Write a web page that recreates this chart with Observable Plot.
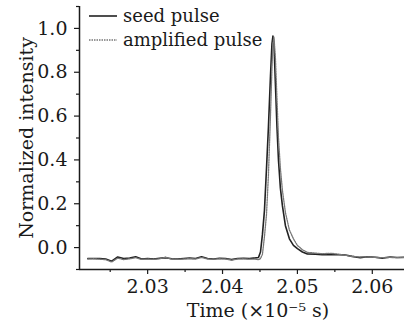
<!DOCTYPE html>
<html><head><meta charset="utf-8">
<script src="https://cdn.jsdelivr.net/npm/d3@7"></script>
<script src="https://cdn.jsdelivr.net/npm/@observablehq/plot@0.6"></script>
<style>
body{margin:0;background:#fff;}
#wrap{position:relative;width:404px;height:328px;font-family:"DejaVu Serif",serif;}
.leg{position:absolute;left:89px;font-size:18px;color:#1a1a1a;height:23px;display:flex;align-items:center;white-space:nowrap}
.leg svg{margin-right:6px}
</style></head><body><div id="wrap"></div>
<script>
// time in units of 1e-5 s
const time = [
 2.0220, 2.0228, 2.0236, 2.0244, 2.0252, 2.0260, 2.0268, 2.0276, 2.0284, 2.0292,
 2.0300, 2.0308, 2.0316, 2.0324, 2.0332, 2.0340, 2.0348, 2.0356, 2.0364, 2.0372,
 2.0380, 2.0388, 2.0396, 2.0404, 2.0412, 2.0420, 2.0428, 2.0436, 2.0444,
 2.0448, 2.04507, 2.04533, 2.0456, 2.04587, 2.04613, 2.0464, 2.0466, 2.04673, 2.04687,
 2.04707, 2.04727, 2.04747, 2.04773, 2.0480, 2.0484, 2.04893, 2.04947, 2.0500, 2.05067, 2.05133,
 2.0524, 2.0533, 2.0544, 2.0555, 2.0564, 2.0573, 2.0584, 2.0593, 2.0604, 2.06133, 2.0624, 2.0633, 2.06427
];
const seed = [
 -0.050, -0.050, -0.050, -0.052, -0.062, -0.043, -0.050, -0.048, -0.042, -0.052,
 -0.050, -0.052, -0.049, -0.046, -0.051, -0.052, -0.050, -0.048, -0.050, -0.042,
 -0.050, -0.052, -0.049, -0.050, -0.055, -0.050, -0.049, -0.050, -0.047,
 -0.045, -0.020, 0.060, 0.170, 0.360, 0.550, 0.780, 0.930, 0.965, 0.930,
 0.740, 0.550, 0.400, 0.270, 0.190, 0.100, 0.040, 0.010, -0.005, -0.020, -0.029,
 -0.030, -0.033, -0.032, -0.033, -0.034, -0.040, -0.046, -0.042, -0.044, -0.048, -0.043, -0.045, -0.044
];
const amplified = [
 -0.052, -0.051, -0.053, -0.055, -0.066, -0.048, -0.055, -0.051, -0.046, -0.054,
 -0.052, -0.054, -0.051, -0.044, -0.053, -0.054, -0.052, -0.050, -0.052, -0.045,
 -0.052, -0.053, -0.051, -0.052, -0.057, -0.052, -0.051, -0.053, -0.053,
 -0.055, -0.050, -0.030, 0.050, 0.150, 0.330, 0.600, 0.820, 0.930, 0.960,
 0.860, 0.680, 0.500, 0.360, 0.260, 0.160, 0.080, 0.040, 0.010, -0.010, -0.022,
 -0.025, -0.028, -0.026, -0.030, -0.035, -0.040, -0.043, -0.042, -0.045, -0.046, -0.045, -0.046, -0.046
];
const seriesNames = ["seed pulse", "amplified pulse"];
const xDomain = [2.0209, 2.0643];
const yDomain = [-0.1, 1.1];
const xTicks = [2.03, 2.04, 2.05, 2.06];
const xMinor = [2.025, 2.035, 2.045, 2.055];
const yTicks = [0.0, 0.2, 0.4, 0.6, 0.8, 1.0];
const yMinor = [-0.1, 0.1, 0.3, 0.5, 0.7, 0.9, 1.1];
const xLabel = "Time (\u00D710\u207B\u2075 s)";
const yLabel = "Normalized intensity";

const seedRows = time.map((t, i) => ({t, v: seed[i]}));
const ampRows = time.map((t, i) => ({t, v: amplified[i]}));
const ink = "#1a1a1a";

const chart = Plot.plot({
  width: 404, height: 328,
  marginLeft: 79, marginRight: 0, marginTop: 6, marginBottom: 59,
  style: {fontFamily: "'DejaVu Serif', serif", fontSize: "19px", color: ink, background: "#fff"},
  x: {domain: xDomain},
  y: {domain: yDomain},
  marks: [
    Plot.axisX(xTicks, {tickSize: 5, tickPadding: 5, tickFormat: d3.format(".2f"), label: null, stroke: ink, strokeWidth: 1.2, fontSize: 19}),
    Plot.axisX(xMinor, {tickSize: 3, tickFormat: () => "", label: null, stroke: ink, strokeWidth: 1.2}),
    Plot.axisY(yTicks, {tickSize: 5, tickPadding: 7, tickFormat: d3.format(".1f"), label: yLabel, labelAnchor: "center", labelArrow: "none", labelOffset: 60, stroke: ink, strokeWidth: 1.2, fontSize: 19}),
    Plot.axisY(yMinor, {tickSize: 3, tickFormat: () => "", label: null, stroke: ink, strokeWidth: 1.2}),
    Plot.ruleX(xDomain.slice(0, 1), {stroke: ink, strokeWidth: 1.5}),
    Plot.ruleY(yDomain.slice(0, 1), {stroke: ink, strokeWidth: 1.5}),
    Plot.line(seedRows, {x: "t", y: "v", stroke: "#222", strokeWidth: 1.6, curve: "linear"}),
    Plot.line(ampRows, {x: "t", y: "v", stroke: "#777", strokeWidth: 1.3, strokeDasharray: "1.5,1", curve: "linear"}),
    Plot.text([xLabel], {frameAnchor: "bottom", text: d => d, dx: 16, dy: 47, fontSize: 19, fill: ink})
  ]
});
const wrap = document.getElementById("wrap");
wrap.appendChild(chart);

// legend
const legStyles = [
  {stroke: "#222", width: 1.6, dash: null, top: 4},
  {stroke: "#777", width: 1.3, dash: "1.5,1", top: 28}
];
seriesNames.forEach((name, i) => {
  const s = legStyles[i];
  const row = document.createElement("div");
  row.className = "leg";
  row.style.top = s.top + "px";
  row.innerHTML = `<svg width="28" height="6"><line x1="0" x2="28" y1="3" y2="3" stroke="${s.stroke}" stroke-width="${s.width}" ${s.dash ? `stroke-dasharray="${s.dash}"` : ""}/></svg><span>${name}</span>`;
  wrap.appendChild(row);
});
</script>
</body></html>
